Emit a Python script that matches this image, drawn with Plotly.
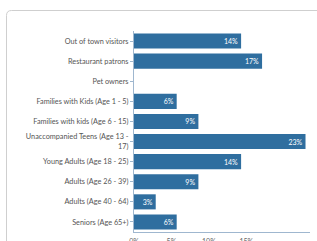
import plotly.graph_objects as go

categories = [
    "Out of town visitors",
    "Restaurant patrons",
    "Pet owners",
    "Families with Kids (Age 1 - 5)",
    "Families with kids (Age 6 - 15)",
    "Unaccompanied Teens (Age 13 -<br>17)",
    "Young Adults (Age 18 - 25)",
    "Adults (Age 26 - 39)",
    "Adults (Age 40 - 64)",
    "Seniors (Age 65+)",
]
shares = [0.143, 0.171, 0.0, 0.057, 0.086, 0.229, 0.143, 0.086, 0.029, 0.057]
bar_text = [f"{round(v * 100)}%" if v > 0 else "" for v in shares]
tick_vals = [0, 0.05, 0.10, 0.15]
tick_text = ["0%", "5%", "10%", "15%"]

W, H = 317, 241
L, R, T, B = 134, 7, 31, 9

fig = go.Figure(go.Bar(
    x=shares, y=categories, orientation="h",
    marker=dict(color="#2f6e9f", line=dict(width=0)),
    width=0.75,
    text=bar_text, textposition="inside", insidetextanchor="end",
    textfont=dict(color="white", size=7, family="Lato"),
    cliponaxis=False,
))

# card border (paper coordinates from pixels)
pw, ph = W - L - R, H - T - B
def px(x): return (x - L) / pw
def py(y): return (H - B - y) / ph
x0, y0, r = px(6.5), py(10.5), 5
path = (f"M {x0},{py(260)} L {x0},{py(10.5 + r)} "
        f"Q {x0},{y0} {px(6.5 + r)},{y0} L {px(340)},{y0}")
fig.add_shape(type="path", xref="paper", yref="paper", path=path,
              line=dict(color="#cfcfcf", width=1), layer="above")

fig.update_layout(
    width=W, height=H,
    margin=dict(l=L, r=R, t=T, b=B),
    paper_bgcolor="white", plot_bgcolor="white",
    showlegend=False, bargap=0.25,
    font=dict(family="Lato", size=7.3, color="#555555"),
    uniformtext=dict(minsize=6, mode="show"),
)
fig.update_xaxes(range=[0, 0.235], tickvals=tick_vals, ticktext=tick_text,
                 showgrid=False, zeroline=False, showline=True,
                 linecolor="#9fb7cf", linewidth=1, automargin=False,
                 ticklabelstandoff=3,
                 tickfont=dict(size=7, color="#666666"), ticks="")
fig.update_yaxes(autorange="reversed", showgrid=False, showline=True,
                 linecolor="#9fb7cf", linewidth=1, ticks="outside",
                 ticklen=3, tickcolor="#9fb7cf", automargin=False,
                 tickfont=dict(size=7.3, color="#555555"))

fig.write_html("out.html", config={"displayModeBar": False},
               post_script="document.body.style.margin='0';document.body.style.overflow='hidden';")
